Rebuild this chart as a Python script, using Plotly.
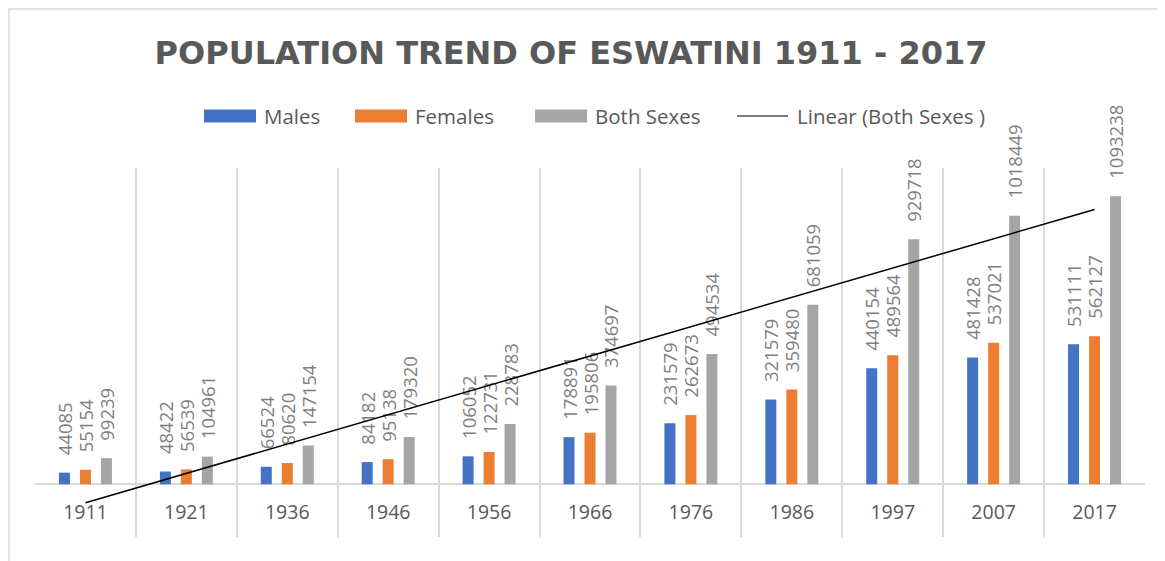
import numpy as np
import plotly.graph_objects as go

years = ["1911", "1921", "1936", "1946", "1956", "1966", "1976", "1986", "1997", "2007", "2017"]
males = [44085, 48422, 66524, 84182, 106052, 178891, 231579, 321579, 440154, 481428, 531111]
females = [55154, 56539, 80620, 95138, 122731, 195806, 262673, 359480, 489564, 537021, 562127]
both = [99239, 104961, 147154, 179320, 228783, 374697, 494534, 681059, 929718, 1018449, 1093238]

series_names = ["Males", "Females", "Both Sexes"]
series_colors = ["#4472C4", "#ED7D31", "#A5A5A5"]
trend_name = "Linear (Both Sexes )"
title_text = "POPULATION TREND OF ESWATINI 1911 - 2017"

# linear trendline over category index (as Excel does)
idx = np.arange(1, len(years) + 1)
slope, intercept = np.polyfit(idx, both, 1)
trend = slope * idx + intercept

# page has an 8px body margin: work in screen coordinates and subtract it
OFF = 8
W, H = 1165 - OFF, 561 - OFF
PL, PR, PT, PB = 35, 1145, 168, 537          # plot area in screen pixels
ML, MR, MT, MB = PL - OFF, W - (PR - OFF), PT - OFF, H - (PB - OFF)
PW, PH = PR - PL, PB - PT


def px(x):
    return (x - PL) / PW


def py(y):
    return (PB - y) / PH


LABEL_GRAY = "#7F7F7F"
TEXT_GRAY = "#595959"
GRID = "#D9D9D9"
FONT = "Open Sans"

fig = go.Figure()
for name, vals, col in zip(series_names, [males, females, both], series_colors):
    fig.add_trace(go.Bar(
        x=years, y=vals, name=name, marker_color=col, marker_line_width=0,
        texttemplate="\u00a0\u00a0\u00a0%{y:.0f}", textposition="outside", textangle=-90,
        constraintext="none", cliponaxis=False,
        textfont=dict(family=FONT, size=18.5, color=LABEL_GRAY),
        showlegend=False,
    ))

fig.add_trace(go.Scatter(
    x=years, y=trend, mode="lines", name=trend_name,
    line=dict(color="black", width=1.5), showlegend=False, cliponaxis=False,
))

zero_pos = 200000 / 1400000

fig.update_layout(
    width=W, height=H,
    margin=dict(l=ML, r=MR, t=MT, b=MB, pad=0),
    paper_bgcolor="white", plot_bgcolor="white",
    barmode="group", bargap=0.376, bargroupgap=0.476,
    title=dict(text=title_text, x=(571 - OFF) / W, xanchor="center", y=1 - (53 - OFF) / H,
               yanchor="middle", yref="container", xref="container",
               font=dict(family="DejaVu Sans", size=32, color=TEXT_GRAY, weight="bold")),
    xaxis=dict(type="category", tickson="boundaries", showgrid=True, gridcolor=GRID, gridwidth=2,
               showline=False, ticks="", ticklabelstandoff=14,
               anchor="free", position=zero_pos,
               tickfont=dict(family=FONT, size=19.5, color=TEXT_GRAY)),
    yaxis=dict(range=[-200000, 1200000], showticklabels=False, showgrid=False,
               zeroline=True, zerolinecolor=GRID, zerolinewidth=2, fixedrange=True),
    showlegend=False,
)

# outer chart border
fig.add_shape(type="rect", xref="paper", yref="paper", x0=px(9), x1=px(1185), y0=py(580), y1=py(9),
              line=dict(color=GRID, width=1.5), layer="below")

# legend (drawn manually to mimic wide swatches)
leg_y = 116
swatches = [(204, 256, 262), (355, 407, 413), (535, 587, 593)]
for (x0, x1, tx), name, col in zip(swatches, series_names, series_colors):
    fig.add_shape(type="rect", xref="paper", yref="paper", x0=px(x0), x1=px(x1),
                  y0=py(leg_y + 6.5), y1=py(leg_y - 6.5), fillcolor=col, line_width=0)
    fig.add_annotation(xref="paper", yref="paper", x=px(tx), y=py(leg_y), text=name, showarrow=False,
                       xanchor="left", yanchor="middle",
                       font=dict(family=FONT, size=20.5, color=TEXT_GRAY))
fig.add_shape(type="line", xref="paper", yref="paper", x0=px(737), x1=px(788), y0=py(leg_y), y1=py(leg_y),
              line=dict(color="black", width=1.2))
fig.add_annotation(xref="paper", yref="paper", x=px(795), y=py(leg_y), text=trend_name, showarrow=False,
                   xanchor="left", yanchor="middle", font=dict(family=FONT, size=20.5, color=TEXT_GRAY))

fig.write_html("out.html")
